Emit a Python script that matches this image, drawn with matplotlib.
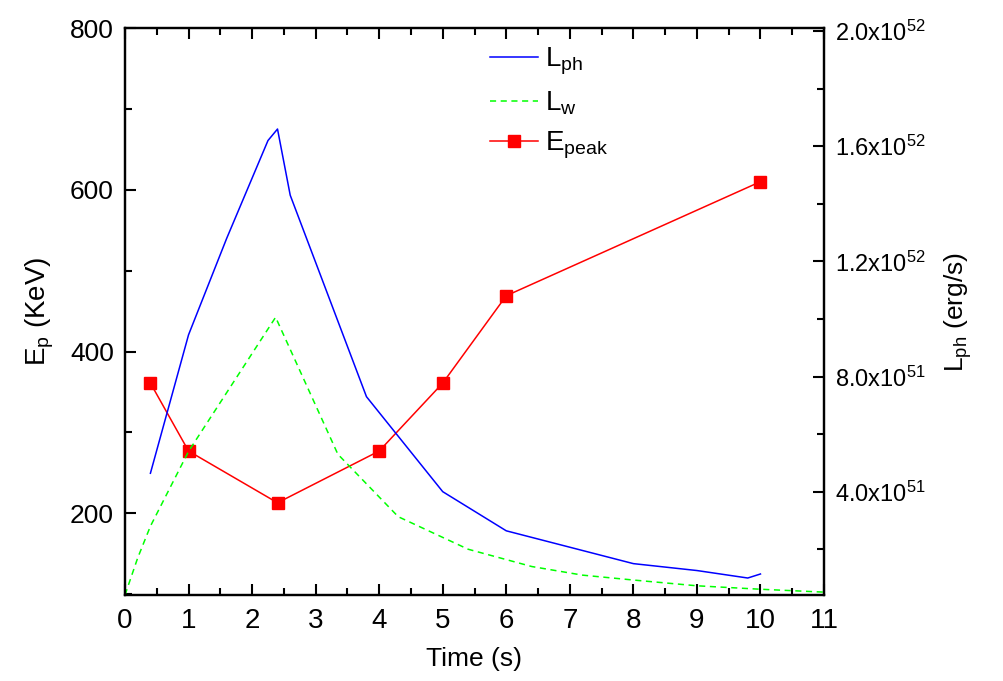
import matplotlib
matplotlib.use("Agg")
import matplotlib.pyplot as plt
from matplotlib.ticker import MultipleLocator, FixedLocator

plt.rcParams["font.family"] = ["Liberation Sans", "DejaVu Sans"]
plt.rcParams["mathtext.fontset"] = "custom"
plt.rcParams["mathtext.rm"] = "Liberation Sans"
plt.rcParams["mathtext.it"] = "Liberation Sans:italic"
plt.rcParams["mathtext.default"] = "rm"

# photospheric luminosity (erg/s)
t_ph = [0.4, 1.0, 1.6, 2.25, 2.4, 2.6, 3.8, 5.0, 6.0, 8.0, 9.0, 9.8, 10.0]
L_ph = [4.64e51, 9.45e51, 12.8e51, 16.2e51, 16.6e51, 14.3e51, 7.3e51,
        4.0e51, 2.64e51, 1.5e51, 1.26e51, 1.0e51, 1.14e51]

# wind luminosity (erg/s)
t_w = [0.0, 0.2, 0.4, 0.7, 1.0, 2.37, 3.35, 4.3, 5.4, 6.4, 7.2, 8.0, 9.0, 10.0, 11.0]
L_w = [0.41e51, 1.7e51, 2.8e51, 4.1e51, 5.4e51, 10.06e51, 5.3e51, 3.13e51,
       2.0e51, 1.4e51, 1.1e51, 0.93e51, 0.73e51, 0.61e51, 0.51e51]

# peak energy (keV)
t_pk = [0.4, 1.0, 2.4, 4.0, 5.0, 6.0, 10.0]
E_pk = [361, 277, 213, 277, 361, 469, 610]

r_ticks = [4e51, 8e51, 1.2e52, 1.6e52, 2.0e52]
r_labels = ["4.0x10$^{51}$", "8.0x10$^{51}$", "1.2x10$^{52}$",
            "1.6x10$^{52}$", "2.0x10$^{52}$"]

fig = plt.figure(figsize=(10.04, 6.81), dpi=100)
ax = fig.add_axes([125 / 1004, 1 - 595 / 681, 699 / 1004, 567 / 681])
ax2 = ax.twinx()

ep, = ax.plot(t_pk, E_pk, color="#ff0000", lw=1.1, marker="s", ms=8,
              mec="#ff0000", mfc="#ff0000", label="E$_{\\mathrm{peak}}$")
lph, = ax2.plot(t_ph, L_ph, color="#0000ff", lw=1.1, label="L$_{\\mathrm{ph}}$")
lw_, = ax2.plot(t_w, L_w, color="#00ff00", lw=1.1, ls=(0, (4, 3)),
                label="L$_{\\mathrm{w}}$")

ax.set_xlim(0, 11)
ax.set_ylim(99, 800)
ax2.set_ylim(0.41e51, 2.011e52)

ax.xaxis.set_major_locator(MultipleLocator(1))
ax.xaxis.set_minor_locator(MultipleLocator(0.5))
ax.yaxis.set_major_locator(FixedLocator([200, 400, 600, 800]))
ax.yaxis.set_minor_locator(FixedLocator([100, 300, 500, 700]))
ax2.yaxis.set_major_locator(FixedLocator(r_ticks))
ax2.set_yticklabels(r_labels)
ax2.yaxis.set_minor_locator(MultipleLocator(2e51))

ax.tick_params(which="both", direction="in", top=True, right=False, width=1.5)
ax.tick_params(which="major", length=8)
ax.tick_params(which="minor", length=5)
ax.tick_params(axis="y", labelsize=19, pad=8)
ax.tick_params(axis="x", labelsize=20, pad=9)
ax2.tick_params(which="both", direction="in", width=1.5)
ax2.tick_params(which="major", length=8, labelsize=17, pad=8)
ax2.tick_params(which="minor", length=5)

for a in (ax, ax2):
    for s in a.spines.values():
        s.set_linewidth(1.6)

ax.set_xlabel("Time (s)", fontsize=19, labelpad=10)
ax.set_ylabel("E$_{\\mathrm{p}}$ (KeV)", fontsize=20, labelpad=10)
ax2.set_ylabel("L$_{\\mathrm{ph}}$ (erg/s)", fontsize=19, labelpad=12)

ax2.legend(handles=[lph, lw_, ep], loc="upper left",
           bbox_to_anchor=(0.522, 0.968), frameon=False, fontsize=20,
           handlelength=1.75, handletextpad=0.25, labelspacing=0.45,
           borderpad=0, borderaxespad=0)

fig.savefig("out.png", dpi=100)
